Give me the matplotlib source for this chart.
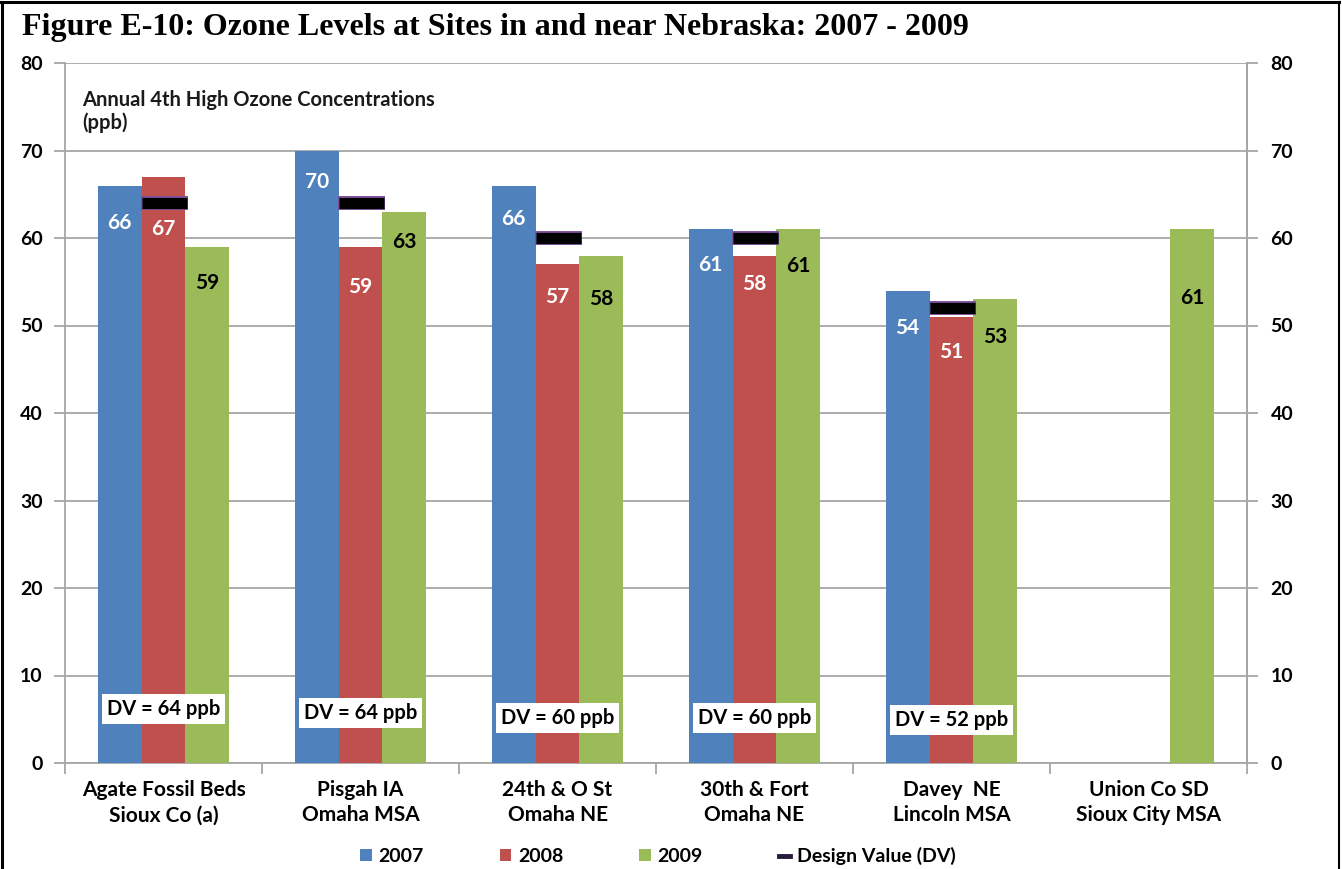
import matplotlib
matplotlib.use("Agg")
import matplotlib.pyplot as plt
from matplotlib.patches import Patch
from matplotlib.lines import Line2D
import numpy as np

# ---- data ----
sites = ["Agate Fossil Beds\nSioux Co (a)", "Pisgah IA\nOmaha MSA", "24th & O St\nOmaha NE",
         "30th & Fort\nOmaha NE", "Davey  NE\nLincoln MSA", "Union Co SD\nSioux City MSA"]
v2007 = [66, 70, 66, 61, 54, None]
v2008 = [67, 59, 57, 58, 51, None]
v2009 = [59, 63, 58, 61, 53, 61]
design_values = [64, 64, 60, 60, 52, None]
series_names = ["2007", "2008", "2009"]
dv_name = "Design Value (DV)"
yticks = [0, 10, 20, 30, 40, 50, 60, 70, 80]

# ---- layout (label positions, styles) ----
label_y = {
    "2007": [61.7, 66.4, 62.2, 56.9, 49.7, None],
    "2008": [61.0, 54.4, 53.3, 54.7, 47.0, None],
    "2009": [54.9, 59.5, 53.0, 56.8, 48.7, 53.1],
}
dv_box_y = [6.2, 5.7, 5.1, 5.1, 4.9]
colors = {"2007": "#4F81BD", "2008": "#C0504D", "2009": "#9BBB59"}
text_colors = {"2007": "white", "2008": "white", "2009": "black"}
FONT = ["Lato", "DejaVu Sans"]

plt.rcParams["font.family"] = FONT
fig = plt.figure(figsize=(13.42, 8.69), dpi=100)
ax = fig.add_axes([65 / 1342, 106 / 869, 1182 / 1342, 700 / 869])

x = np.arange(len(sites))
bw = 0.223
series = {"2007": v2007, "2008": v2008, "2009": v2009}
offsets = {"2007": -bw, "2008": 0.0, "2009": bw}

for name in series_names:
    vals = series[name]
    for i, v in enumerate(vals):
        if v is None:
            continue
        ax.bar(x[i] + offsets[name], v, width=bw, color=colors[name], zorder=3, linewidth=0)
        ax.text(x[i] + offsets[name], label_y[name][i], str(v), ha="center", va="center",
                color=text_colors[name], fontsize=15, fontweight="bold", zorder=5)

for i, dv in enumerate(design_values):
    if dv is None:
        continue
    ax.plot([x[i] - bw * 0.5 - 0.005, x[i] + bw * 0.5 + 0.012], [dv, dv], color="#7a4f9a",
            linewidth=10, solid_capstyle="butt", zorder=4)
    ax.plot([x[i] - bw * 0.5 - 0.0, x[i] + bw * 0.5 + 0.007], [dv, dv], color="black",
            linewidth=8, solid_capstyle="butt", zorder=4)
    ax.text(x[i], dv_box_y[i], f"DV = {dv} ppb", ha="center", va="center", fontsize=14.5,
            fontweight="bold", color="black", zorder=6,
            bbox=dict(boxstyle="square,pad=0.25", facecolor="white", edgecolor="none"))

ax.set_xlim(-0.5, len(sites) - 0.5)
ax.set_ylim(0, 80)
ax.set_yticks(yticks)
ax.set_yticklabels([str(t) for t in yticks], fontsize=14, fontweight="bold")
ax.grid(axis="y", color="#a6a6a6", linewidth=1.3, zorder=0)
ax.set_axisbelow(True)

ax.set_xticks(x)
ax.set_xticklabels(sites, fontsize=15, fontweight="bold", linespacing=1.35)
ax.tick_params(axis="x", which="major", length=0, pad=12)
ax.set_xticks(np.arange(-0.5, len(sites)), minor=True)
ax.tick_params(axis="x", which="minor", length=8, color="#a6a6a6", width=1.3)
ax.tick_params(axis="y", length=8, color="#a6a6a6", width=1.3, pad=8)

ax.spines["top"].set_visible(False)
for s in ["left", "right", "bottom"]:
    ax.spines[s].set_color("#a6a6a6")
    ax.spines[s].set_linewidth(1.3)

ax2 = ax.twinx()
ax2.set_ylim(0, 80)
ax2.set_yticks(yticks)
ax2.set_yticklabels([str(t) for t in yticks], fontsize=14, fontweight="bold")
ax2.tick_params(axis="y", length=8, color="#a6a6a6", width=1.3, pad=9)
for s in ["top", "left", "bottom"]:
    ax2.spines[s].set_visible(False)
ax2.spines["right"].set_color("#a6a6a6")
ax2.spines["right"].set_linewidth(1.3)

ax.text(17 / 1182, 0.962, "Annual 4th High Ozone Concentrations\n(ppb)", transform=ax.transAxes,
        ha="left", va="top", fontsize=14.5, fontweight="bold", color="#1a1a1a", linespacing=1.2)

fig.text(22 / 1342, 1 - 28 / 869, "Figure E-10: Ozone Levels at Sites in and near Nebraska: 2007 - 2009",
         ha="left", va="center", fontsize=23, fontweight="bold", family="Liberation Serif")

handles = [Patch(facecolor=colors[n], edgecolor="none", label=n) for n in series_names]
handles.append(Line2D([0], [0], color="#2a1a3a", linewidth=3.5, label=dv_name))
leg = fig.legend(handles=handles, loc="center", bbox_to_anchor=(658 / 1342, 13 / 869), ncol=4,
                 frameon=False, handlelength=0.6, handleheight=0.6, handletextpad=0.35,
                 columnspacing=3.9, prop={"family": FONT, "weight": "bold", "size": 14})

# figure border (left, top, right)
fig.add_artist(Line2D([1.5 / 1342, 1.5 / 1342], [0, 1 - 1.5 / 869], color="black", linewidth=2.2,
                      transform=fig.transFigure))
fig.add_artist(Line2D([0, 1339 / 1342], [1 - 1.5 / 869, 1 - 1.5 / 869], color="black", linewidth=2.2,
                      transform=fig.transFigure))
fig.add_artist(Line2D([1338.5 / 1342, 1338.5 / 1342], [0, 1 - 1.5 / 869], color="black", linewidth=1.5,
                      transform=fig.transFigure))

fig.savefig("out.png", dpi=100)
